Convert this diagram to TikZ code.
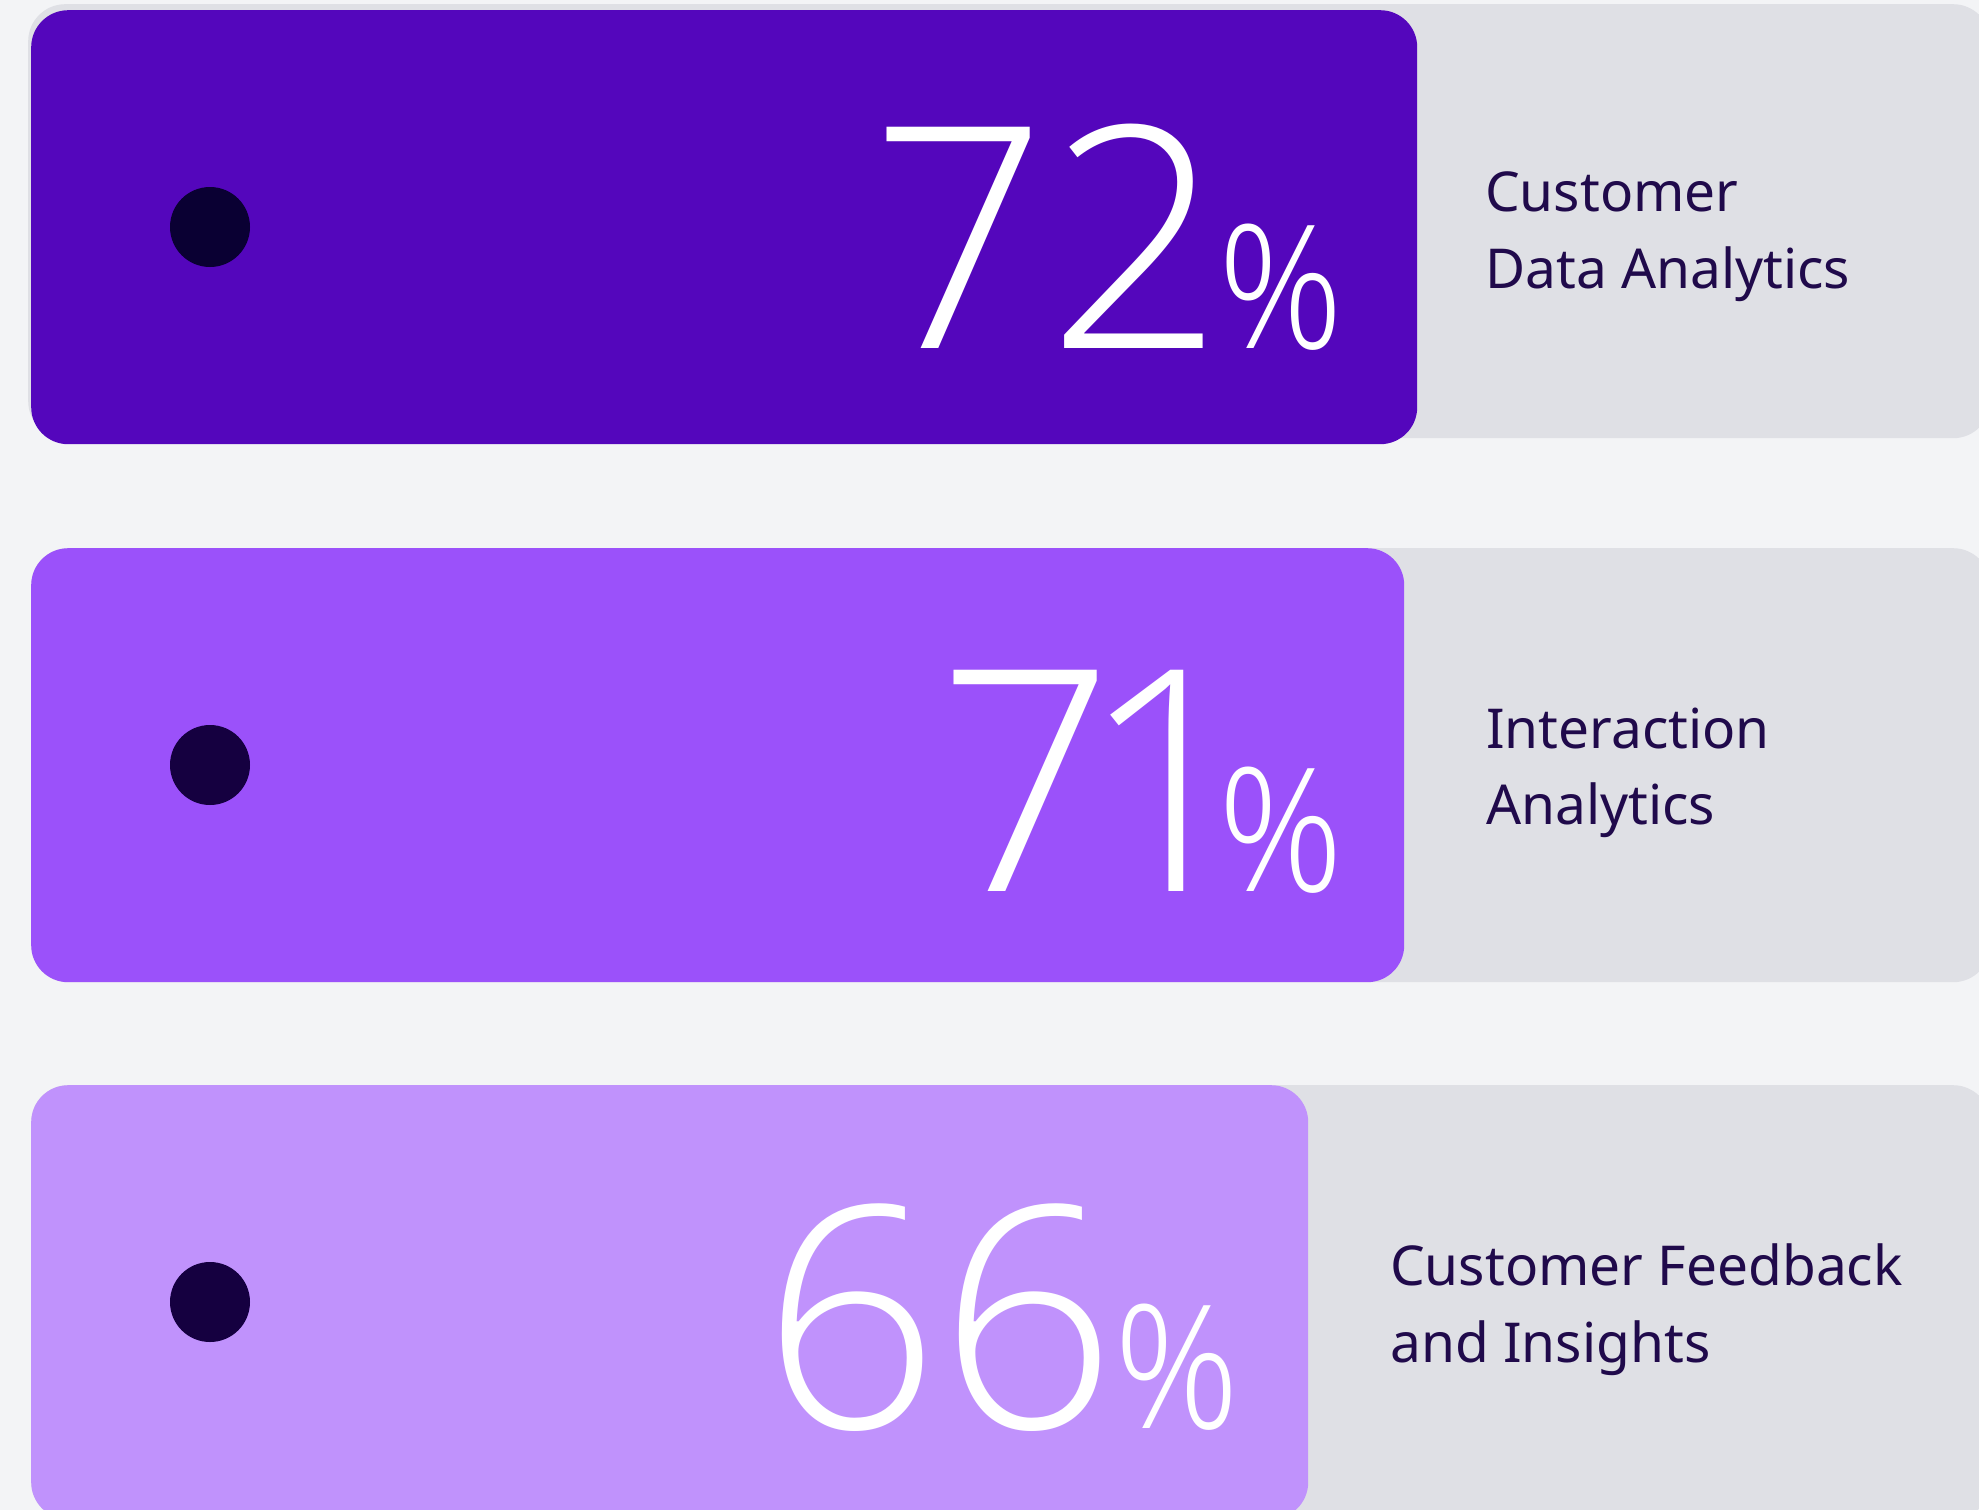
\documentclass[tikz,border=0pt]{standalone}
\usepackage{fontspec}
\setmainfont{Noto Sans}
\IfFontExistsTF{Open Sans Light}{\newfontfamily\numfont{Open Sans Light}}{%
 \IfFontExistsTF{Fira Sans Light}{\newfontfamily\numfont{Fira Sans Light}}{%
  \IfFontExistsTF{Noto Sans Light}{\newfontfamily\numfont{Noto Sans Light}}{%
   \newfontfamily\numfont{Open Sans}}}}
\IfFontExistsTF{Open Sans Light}{\newfontfamily\pctfont{Open Sans Light}[FakeStretch=0.9]}{%
  \newfontfamily\pctfont{Open Sans}[FakeStretch=0.9]}
\definecolor{bgc}{HTML}{F3F4F6}
\definecolor{trackc}{HTML}{DFE0E5}
\definecolor{barA}{HTML}{5406BC}
\definecolor{barB}{HTML}{9B51FA}
\definecolor{barC}{HTML}{C092FC}
\definecolor{dotA}{HTML}{0A0033}
\definecolor{dotB}{HTML}{150040}
\definecolor{lblc}{HTML}{200A4B}
\tikzset{
  track/.style={fill=trackc, rounded corners=37pt, inner sep=0pt, anchor=north west, minimum height=434pt},
  bar/.style={rounded corners=37pt, inner sep=0pt, anchor=north west, minimum height=434pt},
  dotmark/.style={circle, inner sep=0pt, minimum size=80pt},
  bignum/.style={text=white, inner sep=0pt, anchor=base east, font=\numfont\fontsize{310}{310}\selectfont},
  pct/.style={text=white, inner sep=0pt, anchor=base west, font=\pctfont\fontsize{172}{172}\selectfont},
  lbl/.style={text=lblc, inner sep=0pt, anchor=base west, font=\fontsize{55}{77}\selectfont}
}
\begin{document}
\begin{tikzpicture}[x=1pt,y=-1pt]
\useasboundingbox (0,0) rectangle (1979,1510);
\fill[bgc] (0,0) rectangle (1979,1510);
% row 1
\node[track, minimum width=1962pt] (t1) at (28,4) {};
\node[bar, fill=barA, minimum width=1386pt] (b1) at (31,10) {};
\node[dotmark, fill=dotA] (d1) at (210,227) {};
\node[bignum] (n1) at (1213,348) {72\kern-12pt};
\node[pct] (p1) at (1218,348) {\%};
\node[lbl] (l1) at (1485,211) {\vtop{\baselineskip=77pt\hbox{Customer}\hbox{Data Analytics}}};
% row 2
\node[track, minimum width=1959pt] (t2) at (31,548) {};
\node[bar, fill=barB, minimum width=1373pt] (b2) at (31,548) {};
\node[dotmark, fill=dotB] (d2) at (210,765) {};
\node[bignum] (n2) at (1207,891) {7\kern-35pt 1\kern-50pt};
\node[pct] (p2) at (1218,891) {\%};
\node[lbl] (l2) at (1486,748) {\vtop{\baselineskip=76pt\hbox{Interaction}\hbox{Analytics}}};
% row 3
\node[track, minimum width=1959pt] (t3) at (31,1085) {};
\node[bar, fill=barC, minimum width=1277pt] (b3) at (31,1085) {};
\node[dotmark, fill=dotB] (d3) at (210,1302) {};
\node[bignum] (n3) at (1109,1428) {66\kern-8pt};
\node[pct] (p3) at (1114,1428) {\%};
\node[lbl] (l3) at (1390,1285) {\vtop{\baselineskip=77pt\hbox{Customer Feedback}\hbox{and Insights}}};
\end{tikzpicture}
\end{document}
